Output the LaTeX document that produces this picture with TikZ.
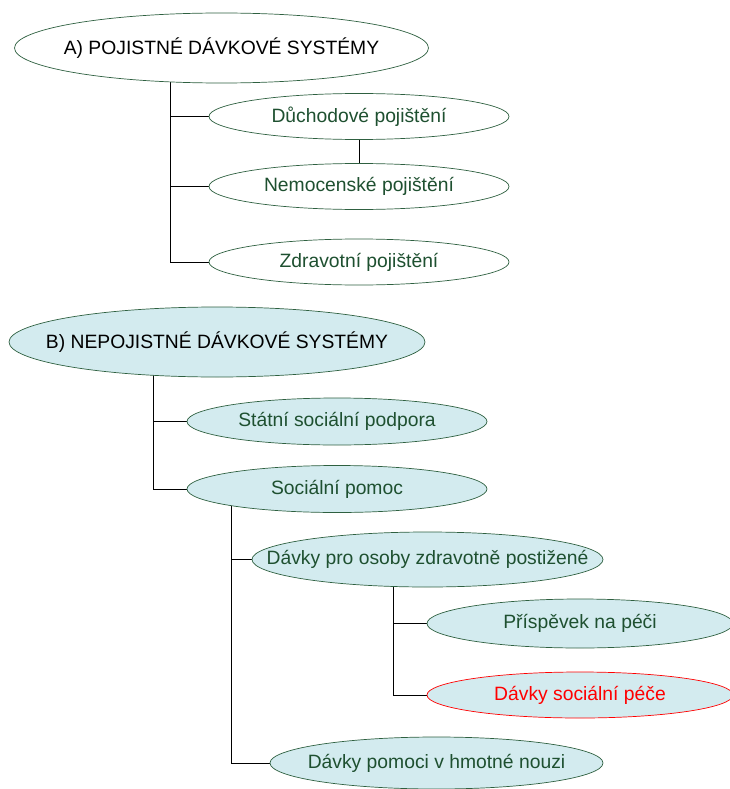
\documentclass[tikz,border=0pt]{standalone}
\usepackage{fontspec}
\setmainfont{Liberation Sans}
\usetikzlibrary{shapes.geometric, backgrounds}

\definecolor{txtgreen}{HTML}{1E5030}
\definecolor{linegreen}{HTML}{2E6040}
\definecolor{paleblue}{HTML}{D3EBEF}

% text that does not widen its ellipse
\newcommand{\lbl}[1]{\makebox[0pt]{#1}}

\tikzset{
  sys/.style={ellipse, draw=linegreen, line width=0.7pt, inner sep=0pt, font=\fontsize{19.3}{23}\selectfont},
  topsys/.style={sys, minimum width=414, minimum height=70, text=black},
  item/.style={sys, minimum width=300, minimum height=46, text=txtgreen},
  link/.style={black, line width=0.9pt}
}

\begin{document}
\begin{tikzpicture}[x=1pt, y=-1pt]
                  \useasboundingbox (0,0) rectangle (730,789);
                  \clip (0,0) rectangle (730,789);

                  % Nodes -- part A
                  \node[topsys, fill=white] (sysA) at (221.5,48) {\lbl{A) POJISTNÉ DÁVKOVÉ SYSTÉMY}};
                  \node[item, fill=white] (duch) at (359,116.5) {\lbl{Důchodové pojištění}};
                  \node[item, fill=white] (nemoc) at (359,186.5) {\lbl{Nemocenské pojištění}};
                  \node[item, fill=white] (zdrav) at (359,262) {\lbl{Zdravotní pojištění}};

                  % Nodes -- part B
                  \node[topsys, fill=paleblue, minimum width=416] (sysB) at (217,342) {\lbl{B) NEPOJISTNÉ DÁVKOVÉ SYSTÉMY}};
                  \node[item, fill=paleblue, minimum height=47] (ssp) at (337,421.5) {\lbl{Státní sociální podpora}};
                  \node[item, fill=paleblue, minimum height=47] (pomoc) at (337,489) {\lbl{Sociální pomoc}};
                  \node[item, fill=paleblue, minimum width=351, minimum height=55] (ozp) at (427.5,559.5) {\lbl{Dávky pro osoby zdravotně postižené}};
                  \node[item, fill=paleblue, minimum width=306, minimum height=49] (pnp) at (580,623.5) {\lbl{Příspěvek na péči}};
                  \node[item, fill=paleblue, minimum width=306, draw=red, text=red] (dsp) at (580,695) {\lbl{Dávky sociální péče}};
                  \node[item, fill=paleblue, minimum width=333, minimum height=52] (hn) at (436.5,763) {\lbl{Dávky pomoci v hmotné nouzi}};

                  % Junctions
                  \coordinate (jA) at (170,82);
                  \coordinate (jB) at (153,375);
                  \coordinate (jP) at (231,505);
                  \coordinate (jO) at (393,586);

                  % Connectors
                  \begin{scope}[on background layer]
                  \foreach \c in {duch,nemoc,zdrav}
                  \draw[link] (jA) |- (\c.west);
                  \draw[link] (duch) -- (nemoc);
                  \foreach \c in {ssp,pomoc}
                  \draw[link] (jB) |- (\c.west);
                  \foreach \c in {ozp,hn}
                  \draw[link] (jP) |- (\c.west);
                  \foreach \c in {pnp,dsp}
                  \draw[link] (jO) |- (\c.west);
                  \end{scope}
              \end{tikzpicture}
\end{document}
